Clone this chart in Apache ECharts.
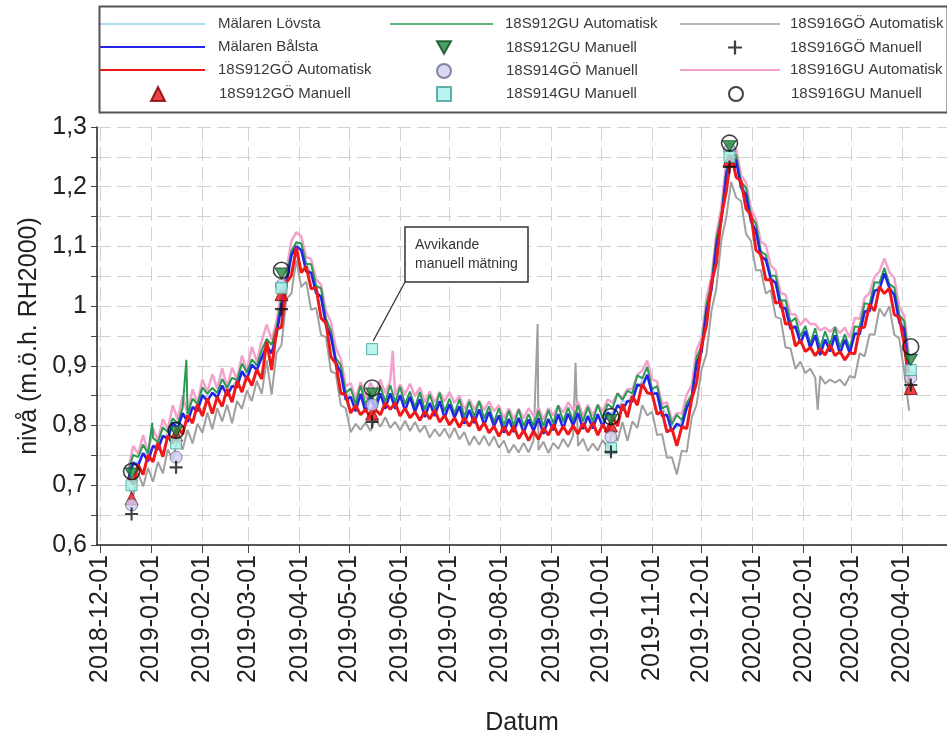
<!DOCTYPE html>
<html>
<head>
<meta charset="utf-8">
<title>Nivåer Mälaren och grundvattenrör</title>
<script src="https://cdn.jsdelivr.net/npm/echarts@6/dist/echarts.min.js"></script>
<style>
  html, body { margin: 0; padding: 0; background: #fff; }
  #chart { width: 947px; height: 737px; }
</style>
</head>
<body>
<div id="chart"></div>
<script>
// Automatic loggers: one value every STEP_DAYS days, starting at FIRST_DAY
const FIRST_DAY = [2018, 11, 18];   // year, month (0-based), day
const STEP_DAYS = 3;

const malarenLovsta = [
  0.722,0.732,0.740,0.752,0.755,0.765,0.770,0.778,0.788,0.797,
  0.806,0.814,0.822,0.830,0.834,0.845,0.850,0.850,0.856,0.862,
  0.865,0.866,0.875,0.884,0.888,0.897,0.900,0.910,0.945,0.920,
  0.965,0.994,1.048,1.080,1.108,1.090,1.072,1.055,1.032,1.010,
  0.978,0.945,0.912,0.885,0.858,0.847,0.835,0.847,0.833,0.843,
  0.835,0.850,0.843,0.852,0.840,0.845,0.835,0.843,0.831,0.840,
  0.829,0.837,0.827,0.835,0.823,0.831,0.821,0.828,0.818,0.825,
  0.815,0.821,0.811,0.818,0.807,0.813,0.803,0.810,0.800,0.807,
  0.798,0.805,0.799,0.808,0.801,0.810,0.803,0.813,0.805,0.815,
  0.808,0.817,0.809,0.815,0.806,0.813,0.808,0.817,0.823,0.830,
  0.841,0.840,0.851,0.863,0.875,0.883,0.861,0.850,0.831,0.817,
  0.801,0.797,0.808,0.825,0.853,0.900,0.938,0.990,1.038,1.095,
  1.153,1.215,1.258,1.240,1.213,1.185,1.153,1.120,1.093,1.073,
  1.053,1.035,1.013,0.995,0.973,0.960,0.948,0.953,0.938,0.947,
  0.933,0.943,0.935,0.945,0.930,0.939,0.929,0.950,0.968,0.990,
  1.003,1.020,1.038,1.050,1.038,1.015,0.988,0.960,0.898
];

const malarenBalsta = [
  0.711,0.738,0.733,0.754,0.740,0.766,0.760,0.783,0.778,0.805,
  0.795,0.821,0.806,0.831,0.824,0.851,0.841,0.855,0.847,0.867,
  0.850,0.866,0.864,0.891,0.878,0.902,0.893,0.914,0.933,0.921,
  0.952,1.001,1.038,1.085,1.100,1.094,1.058,1.056,1.022,1.016,
  0.968,0.950,0.905,0.889,0.843,0.848,0.824,0.853,0.823,0.848,
  0.827,0.854,0.828,0.854,0.828,0.851,0.825,0.848,0.823,0.844,
  0.814,0.838,0.816,0.841,0.813,0.836,0.813,0.832,0.803,0.826,
  0.804,0.827,0.801,0.823,0.799,0.817,0.788,0.811,0.789,0.813,
  0.788,0.810,0.791,0.812,0.786,0.811,0.792,0.819,0.795,0.820,
  0.800,0.821,0.794,0.816,0.795,0.819,0.798,0.822,0.815,0.834,
  0.826,0.841,0.840,0.869,0.865,0.885,0.853,0.854,0.816,0.818,
  0.790,0.803,0.798,0.830,0.845,0.904,0.923,0.991,1.027,1.101,
  1.143,1.220,1.250,1.244,1.198,1.186,1.142,1.126,1.083,1.078,
  1.045,1.039,0.998,0.996,0.962,0.966,0.938,0.958,0.930,0.951,
  0.918,0.944,0.924,0.951,0.920,0.944,0.921,0.954,0.953,0.991,
  0.992,1.026,1.028,1.055,1.030,1.019,0.973,0.961,0.880
];

const auto912GO = [
  0.713,0.701,0.734,0.718,0.751,0.739,0.771,0.748,0.783,0.770,
  0.796,0.786,0.817,0.804,0.835,0.816,0.846,0.820,0.848,0.832,
  0.861,0.839,0.875,0.856,0.883,0.867,0.894,0.878,0.941,0.893,
  0.961,0.965,1.040,1.051,1.098,1.056,1.067,1.029,1.031,0.980,
  0.972,0.915,0.904,0.854,0.852,0.821,0.834,0.818,0.827,0.813,
  0.827,0.818,0.838,0.827,0.838,0.816,0.829,0.813,0.823,0.809,
  0.824,0.811,0.826,0.806,0.817,0.801,0.813,0.797,0.813,0.799,
  0.814,0.792,0.805,0.788,0.799,0.782,0.798,0.784,0.799,0.778,
  0.792,0.775,0.791,0.777,0.796,0.784,0.802,0.784,0.799,0.785,
  0.800,0.786,0.804,0.789,0.805,0.784,0.802,0.787,0.815,0.799,
  0.836,0.814,0.850,0.834,0.870,0.855,0.853,0.819,0.824,0.789,
  0.795,0.766,0.798,0.795,0.844,0.872,0.934,0.968,1.039,1.072,
  1.150,1.192,1.254,1.216,1.209,1.163,1.153,1.094,1.086,1.044,
  1.044,1.005,1.007,0.970,0.971,0.933,0.943,0.924,0.931,0.917,
  0.929,0.918,0.935,0.917,0.924,0.910,0.922,0.920,0.963,0.965,
  1.003,0.992,1.032,1.021,1.030,0.986,0.981,0.937,0.870
];

const auto912GU = [
  0.723,0.751,0.747,0.768,0.753,0.779,0.772,0.797,0.789,0.812,
  0.803,0.830,0.819,0.845,0.836,0.864,0.853,0.863,0.855,0.878,
  0.863,0.880,0.876,0.904,0.889,0.911,0.901,0.926,0.945,0.935,
  0.964,1.014,1.049,1.092,1.107,1.105,1.071,1.070,1.034,1.030,
  0.979,0.959,0.913,0.901,0.855,0.862,0.836,0.867,0.834,0.857,
  0.834,0.866,0.840,0.868,0.839,0.865,0.836,0.857,0.830,0.856,
  0.826,0.852,0.827,0.855,0.824,0.845,0.820,0.844,0.815,0.840,
  0.815,0.841,0.812,0.832,0.806,0.829,0.800,0.825,0.800,0.827,
  0.799,0.819,0.799,0.825,0.799,0.826,0.804,0.834,0.807,0.830,
  0.808,0.834,0.807,0.831,0.807,0.835,0.812,0.836,0.829,0.854,
  0.843,0.858,0.854,0.884,0.879,0.898,0.861,0.866,0.829,0.833,
  0.802,0.818,0.809,0.838,0.851,0.914,0.933,1.003,1.036,1.113,
  1.151,1.226,1.252,1.253,1.208,1.198,1.151,1.138,1.092,1.086,
  1.051,1.051,1.009,1.010,0.973,0.980,0.949,0.967,0.937,0.963,
  0.930,0.958,0.935,0.965,0.931,0.953,0.928,0.966,0.965,1.005,
  1.003,1.040,1.039,1.064,1.037,1.031,0.985,0.975,0.905
];

const auto916GO = [
  0.697,0.683,0.720,0.698,0.729,0.706,0.739,0.720,0.760,0.743,
  0.777,0.760,0.793,0.770,0.803,0.788,0.822,0.794,0.829,0.807,
  0.835,0.804,0.841,0.828,0.859,0.841,0.875,0.853,0.909,0.852,
  0.922,0.935,1.012,1.021,1.077,1.032,1.041,0.994,0.997,0.952,
  0.948,0.891,0.887,0.834,0.829,0.789,0.803,0.793,0.805,0.791,
  0.811,0.798,0.814,0.796,0.806,0.792,0.808,0.791,0.806,0.789,
  0.800,0.780,0.794,0.782,0.795,0.779,0.796,0.777,0.789,0.767,
  0.782,0.768,0.783,0.766,0.782,0.763,0.775,0.754,0.768,0.755,
  0.771,0.755,0.775,0.759,0.773,0.754,0.771,0.761,0.778,0.764,
  0.783,0.766,0.778,0.757,0.770,0.758,0.776,0.762,0.793,0.774,
  0.806,0.774,0.807,0.796,0.834,0.817,0.823,0.784,0.786,0.746,
  0.747,0.718,0.758,0.756,0.813,0.835,0.894,0.920,0.992,1.030,
  1.110,1.149,1.208,1.182,1.176,1.121,1.109,1.060,1.060,1.021,
  1.027,0.982,0.979,0.931,0.929,0.895,0.907,0.888,0.895,0.880,
  0.883,0.870,0.877,0.872,0.877,0.867,0.883,0.880,0.921,0.916,
  0.953,0.952,0.996,0.983,1.000,0.952,0.946,0.891,0.825
];

const auto916GU = [
  0.728,0.766,0.752,0.784,0.754,0.795,0.775,0.811,0.794,0.834,
  0.810,0.850,0.820,0.861,0.837,0.877,0.856,0.886,0.862,0.896,
  0.864,0.897,0.877,0.917,0.892,0.932,0.907,0.942,0.969,0.944,
  0.975,1.023,1.060,1.109,1.124,1.117,1.082,1.079,1.045,1.036,
  0.992,0.974,0.930,0.912,0.866,0.871,0.845,0.873,0.845,0.872,
  0.854,0.877,0.854,0.875,0.851,0.869,0.852,0.870,0.849,0.864,
  0.839,0.857,0.839,0.856,0.840,0.856,0.838,0.850,0.827,0.844,
  0.827,0.841,0.826,0.840,0.824,0.834,0.812,0.829,0.811,0.828,
  0.812,0.829,0.816,0.830,0.810,0.829,0.817,0.833,0.822,0.839,
  0.826,0.840,0.816,0.835,0.817,0.835,0.824,0.844,0.838,0.854,
  0.846,0.861,0.861,0.885,0.892,0.909,0.877,0.874,0.836,0.839,
  0.809,0.821,0.820,0.852,0.867,0.927,0.946,1.014,1.049,1.121,
  1.165,1.242,1.267,1.264,1.219,1.207,1.163,1.146,1.108,1.102,
  1.068,1.060,1.022,1.019,0.987,0.986,0.968,0.979,0.970,0.970,
  0.959,0.964,0.957,0.965,0.955,0.964,0.947,0.980,0.979,1.014,
  1.022,1.049,1.058,1.080,1.057,1.047,0.999,0.984,0.915
];

// Short spikes in the logger records, between the regular readings
const spikes912GU = [['2019-01-01 12:00', 0.805], ['2019-01-22 06:00', 0.910]];
const spikes916GO = [['2019-08-23 12:00', 0.970], ['2019-09-15 12:00', 0.905], ['2020-02-09 12:00', 0.826]];
const spikes916GU = [['2019-05-27 12:00', 0.925]];

// Manual measurement rounds
const manualDates = ['2018-12-20', '2019-01-16', '2019-03-21', '2019-05-15', '2019-10-07', '2019-12-18', '2020-04-06'];
const manual912GO = [0.678, 0.785, 1.020, 0.820, 0.800, 1.245, 0.863];
const manual912GU = [0.720, 0.790, 1.055, 0.854, 0.810, 1.268, 0.910];
const manual914GO = [0.667, 0.747, 1.035, 0.835, 0.781, 1.262, 0.880];
const manual914GU = [0.700, 0.770, 1.030, 0.928, 0.762, 1.250, 0.893];
const manual916GO = [0.652, 0.730, 0.995, 0.806, 0.756, 1.233, 0.868];
const manual916GU = [0.723, 0.792, 1.060, 0.863, 0.815, 1.273, 0.932];

// Axis ticks
const yTicks = [0.6, 0.7, 0.8, 0.9, 1.0, 1.1, 1.2, 1.3];
const xRange = ['2018-11-29', '2020-04-28'];

// ---------------------------------------------------------------------------
function parseLocal(s) {
  const [d, t] = s.split(' ');
  const [y, m, day] = d.split('-').map(Number);
  const [hh, mm] = (t || '00:00').split(':').map(Number);
  return new Date(y, m - 1, day, hh, mm).getTime();
}
function gridTime(i) {
  return new Date(FIRST_DAY[0], FIRST_DAY[1], FIRST_DAY[2] + STEP_DAYS * i).getTime();
}
function loggerSeries(values, extra) {
  const pts = values.map((v, i) => [gridTime(i), v]);
  (extra || []).forEach(([t, v]) => pts.push([parseLocal(t), v]));
  return pts.sort((a, b) => a[0] - b[0]);
}
function manualSeries(values) {
  return manualDates.map((d, i) => [parseLocal(d), values[i]]);
}
function pad(n) { return n < 10 ? '0' + n : '' + n; }

function fontAvailable(name) {
  const ctx = document.createElement('canvas').getContext('2d');
  const probe = '2018-12-01 Datum nivå';
  ctx.font = '40px monospace';
  const base = ctx.measureText(probe).width;
  ctx.font = '40px "' + name + '", monospace';
  return Math.abs(ctx.measureText(probe).width - base) > 0.5;
}
const hasNarrow = fontAvailable('Liberation Sans Narrow');
const AXIS_FONT = hasNarrow ? '"Liberation Sans Narrow", "Arial Narrow", sans-serif' : '"Liberation Sans", Arial, sans-serif';
const AXIS_SIZE = hasNarrow ? 28 : 25;
const LEGEND_FONT = '"Liberation Sans", Arial, sans-serif';

const gridDash = { color: '#d2d2d2', width: 1, type: [14, 6] };

function lineSeries(name, data, color, width, z) {
  return {
    name, type: 'line', data, z,
    showSymbol: false, symbol: 'none',
    color, itemStyle: { color }, lineStyle: { color, width },
    emphasis: { disabled: true },
    animation: false
  };
}
function markerSeries(name, data, symbol, size, style, z) {
  return {
    name, type: 'scatter', data, symbol, symbolSize: size, symbolKeepAspect: true,
    itemStyle: style, z: z || 10,
    emphasis: { disabled: true },
    animation: false
  };
}

// One legend block per entry so the three columns line up as in a boxed key
const legendText = { fontFamily: LEGEND_FONT, fontSize: 15, color: '#3a3a3a' };
function legendLine(name, left, rowY, width, thickness, textX) {
  return {
    data: [{ name, icon: 'rect' }], left, top: rowY - 7.5, padding: 0,
    itemWidth: width, itemHeight: thickness, selectedMode: false,
    textStyle: Object.assign({ padding: [0, 0, 0, textX - (left + width + 5)] }, legendText)
  };
}
function legendSymbol(name, centerX, rowY, textX) {
  const left = centerX - 7;
  return {
    data: [name], left, top: rowY - 7, padding: 0,
    itemWidth: 14, itemHeight: 14, selectedMode: false,
    textStyle: Object.assign({ padding: [0, 0, 0, textX - (left + 19)] }, legendText)
  };
}
const rows = [24, 47, 70, 93];

const chart = echarts.init(document.getElementById('chart'), null, { renderer: 'canvas' });

const option = {
  animation: false,
  backgroundColor: '#ffffff',
  grid: { left: 97, right: 0, top: 127, bottom: 192, outerBoundsMode: 'none', containLabel: false },
  legend: [
    legendLine('Mälaren Lövsta', 100, rows[0], 105, 1.5, 218),
    legendLine('Mälaren Bålsta', 100, rows[1], 105, 2, 218),
    legendLine('18S912GÖ Automatisk', 100, rows[2], 105, 2, 218),
    legendSymbol('18S912GÖ Manuell', 157, rows[3], 218),
    legendLine('18S912GU Automatisk', 390, rows[0], 103, 1.5, 505),
    legendSymbol('18S912GU Manuell', 443, rows[1], 505),
    legendSymbol('18S914GÖ Manuell', 443, rows[2], 505),
    legendSymbol('18S914GU Manuell', 443, rows[3], 505),
    legendLine('18S916GÖ Automatisk', 680, rows[0], 100, 1.5, 790),
    legendSymbol('18S916GÖ Manuell', 735, rows[1], 790),
    legendLine('18S916GU Automatisk', 680, rows[2], 100, 2, 790),
    legendSymbol('18S916GU Manuell', 735, rows[3], 790)
  ],
  xAxis: {
    type: 'time',
    min: parseLocal(xRange[0]),
    max: parseLocal(xRange[1]),
    splitNumber: 20,
    name: 'Datum',
    nameLocation: 'middle',
    nameGap: 166,
    nameTextStyle: { fontFamily: AXIS_FONT, fontSize: AXIS_SIZE, color: '#222' },
    axisLine: { show: true, lineStyle: { color: '#222', width: 1.5 } },
    axisTick: { show: true, length: 8, lineStyle: { color: '#444', width: 1 } },
    axisLabel: {
      rotate: 90, margin: 10, color: '#222',
      fontFamily: AXIS_FONT, fontSize: AXIS_SIZE,
      formatter: (v) => { const d = new Date(v); return d.getFullYear() + '-' + pad(d.getMonth() + 1) + '-' + pad(d.getDate()); }
    },
    splitLine: { show: true, lineStyle: gridDash }
  },
  yAxis: {
    type: 'value',
    min: yTicks[0], max: yTicks[yTicks.length - 1], interval: 0.1,
    name: 'nivå (m.ö.h. RH2000)',
    nameLocation: 'middle',
    nameRotate: 90,
    nameGap: 52,
    nameTextStyle: { fontFamily: AXIS_FONT, fontSize: AXIS_SIZE, color: '#222' },
    axisLine: { show: true, lineStyle: { color: '#222', width: 1.5 } },
    axisTick: { show: true, length: 6, lineStyle: { color: '#444' } },
    minorTick: { show: true, splitNumber: 2, length: 6, lineStyle: { color: '#444' } },
    axisLabel: {
      margin: 10, color: '#222', fontFamily: AXIS_FONT, fontSize: AXIS_SIZE,
      formatter: (v) => String(Math.round(v * 10) / 10).replace('.', ',')
    },
    splitLine: { show: true, lineStyle: gridDash },
    minorSplitLine: { show: true, lineStyle: gridDash }
  },
  series: [
    lineSeries('Mälaren Lövsta', loggerSeries(malarenLovsta), '#8fd0ea', 1.5, 3),
    lineSeries('Mälaren Bålsta', loggerSeries(malarenBalsta), '#2424e8', 2.5, 4),
    lineSeries('18S912GÖ Automatisk', loggerSeries(auto912GO), '#f01818', 3, 5),
    markerSeries('18S912GÖ Manuell', manualSeries(manual912GO), 'triangle', 13,
      { color: '#e8141a', borderColor: '#7a0000', borderWidth: 1 }, 11),
    lineSeries('18S912GU Automatisk', loggerSeries(auto912GU, spikes912GU), '#2a9a50', 2, 3),
    markerSeries('18S912GU Manuell', manualSeries(manual912GU), 'path://M0,0L10,0L5,9Z', [13, 12],
      { color: '#218a3e', borderColor: '#0b4a1c', borderWidth: 1 }, 12),
    markerSeries('18S914GÖ Manuell', manualSeries(manual914GO), 'circle', 12,
      { color: '#cfcff2', borderColor: '#6b6b8a', borderWidth: 1 }, 11),
    markerSeries('18S914GU Manuell', manualSeries(manual914GU), 'rect', 11,
      { color: '#a9f1ea', borderColor: '#3f9c96', borderWidth: 1 }, 11),
    lineSeries('18S916GÖ Automatisk', loggerSeries(auto916GO, spikes916GO), '#a0a0a0', 2, 1),
    markerSeries('18S916GÖ Manuell', manualSeries(manual916GO), 'path://M4.2,0H5.8V4.2H10V5.8H5.8V10H4.2V5.8H0V4.2H4.2Z', 13,
      { color: '#111111' }, 12),
    lineSeries('18S916GU Automatisk', loggerSeries(auto916GU, spikes916GU), '#f2a2cc', 2.5, 2),
    markerSeries('18S916GU Manuell', manualSeries(manual916GU), 'circle', 16,
      { color: 'rgba(255,255,255,0)', borderColor: '#111111', borderWidth: 1.6 }, 13)
  ]
};

chart.setOption(option);

// Key frame and the call-out for the deviating manual reading at 18S914GU
const outlier = chart.convertToPixel({ gridIndex: 0 }, [parseLocal(manualDates[3]), manual914GU[3]]);
const box = { x: 405, y: 227, width: 123, height: 55 };
chart.setOption({
  graphic: [
    {
      type: 'rect', left: 97, top: 4, silent: true, z: 100,
      shape: { x: 0, y: 0, width: 848, height: 106 },
      style: { fill: 'none', stroke: '#555', lineWidth: 2 }
    },
    {
      type: 'line', silent: true, z: 100,
      shape: { x1: box.x, y1: box.y + box.height, x2: outlier[0] + 1, y2: outlier[1] - 8 },
      style: { stroke: '#333', lineWidth: 1.2 }
    },
    {
      type: 'rect', silent: true, z: 100,
      shape: { x: box.x, y: box.y, width: box.width, height: box.height },
      style: { fill: '#fff', stroke: '#333', lineWidth: 1.5 }
    },
    {
      type: 'text', silent: true, z: 101,
      x: box.x + 10, y: box.y + 9,
      style: { text: 'Avvikande\nmanuell mätning', font: '14px ' + LEGEND_FONT, fill: '#333', lineHeight: 19 }
    }
  ]
});
</script>
</body>
</html>
